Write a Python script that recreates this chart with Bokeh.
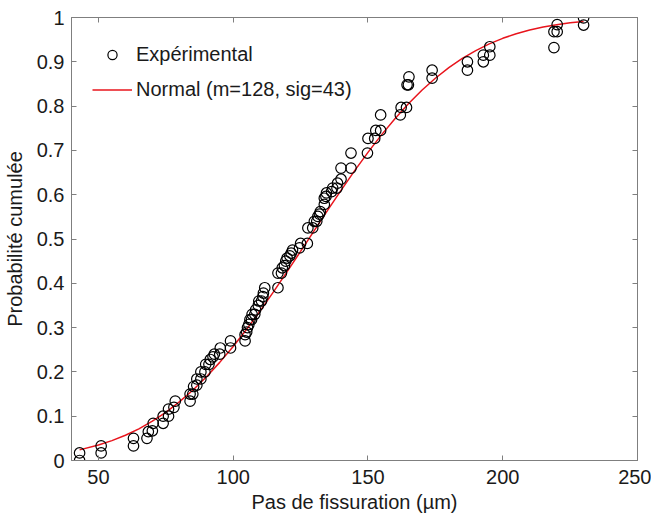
from bokeh.plotting import figure
from bokeh.models import (Range1d, FixedTicker, LinearAxis, NumeralTickFormatter,
                          CustomJSTickFormatter, Legend, LegendItem, ColumnDataSource)
from bokeh.embed import file_html
from bokeh.resources import INLINE

# Experimental points (x in µm, cumulative probability)
exp_x = [43, 43, 51, 51, 63, 63, 68, 68.5, 70, 70.3, 74, 74, 76, 76, 78, 78.5,
         84, 84, 85, 85.3, 86.5, 86.5, 88, 88, 89.5, 89.8, 91, 91.5, 92.5, 93,
         95, 95.2, 99, 99, 104.4, 104.4, 105, 105.3, 105.8, 106.2, 106.8, 107,
         108, 108.3, 109.3, 109.5, 110.5, 111, 111.2, 111.7, 116.6, 116.6, 117.9,
         118.2, 119, 119.5, 120, 121, 121.5, 122, 124.6, 125, 127.5, 127.7, 129.5,
         130.1, 131, 131.4, 132, 132.3, 133.8, 133.8, 134.4, 134.6, 136.5, 136.9,
         138.5, 138.7, 140, 140, 143.7, 143.7, 149.8, 150, 152.5, 152.9, 154.7,
         154.7, 162, 162.3, 164.3, 164.5, 165, 165.2, 173.8, 173.8, 186.9, 186.9,
         192.8, 192.8, 195.2, 195.2, 219, 219, 220.2, 220.2, 230, 230]
exp_y = [0.0, 0.017, 0.017, 0.033, 0.033, 0.05, 0.05, 0.065, 0.067, 0.084, 0.084,
         0.1, 0.1, 0.116, 0.12, 0.134, 0.134, 0.15, 0.15, 0.167, 0.17, 0.184, 0.184,
         0.2, 0.2, 0.217, 0.217, 0.228, 0.234, 0.24, 0.24, 0.254, 0.254, 0.27, 0.27,
         0.284, 0.29, 0.3, 0.307, 0.318, 0.318, 0.33, 0.33, 0.34, 0.35, 0.36, 0.36,
         0.37, 0.378, 0.39, 0.39, 0.423, 0.423, 0.435, 0.44, 0.45, 0.457, 0.462,
         0.468, 0.475, 0.48, 0.49, 0.49, 0.525, 0.525, 0.54, 0.54, 0.551, 0.556,
         0.562, 0.578, 0.592, 0.596, 0.604, 0.607, 0.615, 0.615, 0.626, 0.635,
         0.66, 0.66, 0.694, 0.694, 0.727, 0.727, 0.745, 0.745, 0.78, 0.78, 0.797,
         0.797, 0.848, 0.848, 0.866, 0.863, 0.881, 0.881, 0.9, 0.9, 0.915, 0.915,
         0.934, 0.932, 0.968, 0.968, 0.984, 0.983, 0.999]

# Fitted normal CDF (m=128, sig=43)
fit_x = [43, 50, 55, 60, 65, 70, 75, 80, 85, 90, 95, 100, 105, 110, 115, 120, 125,
         130, 135, 140, 145, 150, 155, 160, 165, 170, 175, 180, 185, 190, 195, 200,
         205, 210, 215, 220, 225, 230]
fit_y = [0.024, 0.0348, 0.0448, 0.0569, 0.0715, 0.0887, 0.1088, 0.1322, 0.1587,
         0.1884, 0.2215, 0.2575, 0.2963, 0.3377, 0.3813, 0.4262, 0.4721, 0.5185,
         0.5646, 0.6099, 0.6537, 0.6956, 0.7350, 0.7716, 0.8052, 0.8357, 0.8628,
         0.8867, 0.9075, 0.9253, 0.9404, 0.9530, 0.9633, 0.9717, 0.9785, 0.9838,
         0.9880, 0.9912]

x_ticks = [50, 100, 150, 200, 250]
y_ticks = [0, 0.1, 0.2, 0.3, 0.4, 0.5, 0.6, 0.7, 0.8, 0.9, 1]

x_label = "Pas de fissuration (µm)"
y_label = "Probabilité cumulée"
legend_exp = "Expérimental"
legend_fit = "Normal (m=128, sig=43)"

FONT = "Liberation Sans"
TXT = "#1a1a1a"
AX = "#7f7f7f"

p = figure(frame_width=566, frame_height=443, output_backend="svg",
           toolbar_location=None, x_range=Range1d(40, 250), y_range=Range1d(0, 1),
           min_border_left=69, min_border_right=14, min_border_top=17,
           min_border_bottom=50, background_fill_color="white",
           border_fill_color="white", outline_line_color=AX, outline_line_width=1)
p.xgrid.visible = False
p.ygrid.visible = False

src_exp = ColumnDataSource(dict(x=exp_x, y=exp_y))
src_fit = ColumnDataSource(dict(x=fit_x, y=fit_y))
r_fit = p.line("x", "y", source=src_fit, line_color="#e8141c", line_width=1.5)
r_exp = p.scatter("x", "y", source=src_exp, marker="circle", size=10.5,
                  fill_color=None, line_color="black", line_width=1.2)

def style(ax):
    ax.axis_line_color = AX
    ax.major_tick_line_color = AX
    ax.minor_tick_line_color = None
    ax.major_tick_in = 5
    ax.major_tick_out = 0
    ax.major_label_text_font = FONT
    ax.major_label_text_color = TXT
    ax.major_label_text_font_size = "20px"
    ax.axis_label_text_font = FONT
    ax.axis_label_text_color = TXT
    ax.axis_label_text_font_size = "20px"
    ax.axis_label_text_font_style = "normal"

p.xaxis.ticker = FixedTicker(ticks=x_ticks)
p.yaxis.ticker = FixedTicker(ticks=y_ticks)
p.yaxis.formatter = NumeralTickFormatter(format="0.[0]")
p.xaxis.axis_label = x_label
p.yaxis.axis_label = y_label
style(p.xaxis[0])
style(p.yaxis[0])
p.xaxis.major_label_standoff = 9
p.xaxis.axis_label_standoff = 4
p.yaxis.major_label_standoff = 7
p.yaxis.axis_label_standoff = 8

blank = CustomJSTickFormatter(code="return '';")
top = LinearAxis(ticker=FixedTicker(ticks=x_ticks), formatter=blank)
right = LinearAxis(ticker=FixedTicker(ticks=y_ticks), formatter=blank)
for a in (top, right):
    style(a)
    a.major_label_standoff = 0
p.add_layout(top, "above")
p.add_layout(right, "right")

legend = Legend(items=[LegendItem(label=legend_exp, renderers=[r_exp]),
                       LegendItem(label=legend_fit, renderers=[r_fit])],
                location=(21, 359), orientation="vertical")
legend.border_line_color = None
legend.background_fill_alpha = 0
legend.padding = 0
legend.margin = 0
legend.spacing = 12
legend.glyph_width = 40
legend.glyph_height = 23
legend.label_height = 23
legend.label_standoff = 4
legend.label_text_font = FONT
legend.label_text_font_size = "20px"
legend.label_text_color = TXT
p.add_layout(legend)

open("out.html", "w").write(file_html(p, INLINE))
